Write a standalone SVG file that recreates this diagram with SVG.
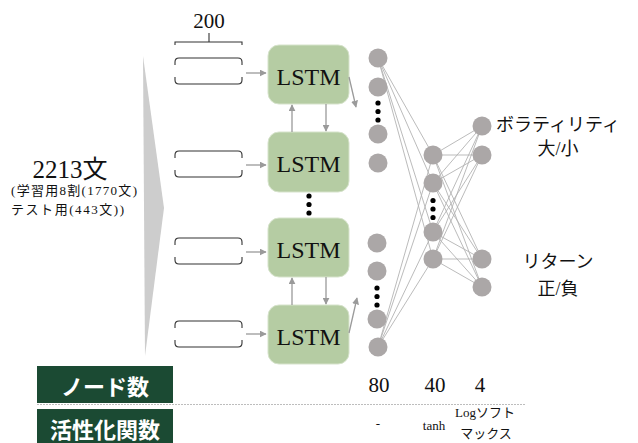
<svg xmlns="http://www.w3.org/2000/svg" width="638" height="443" viewBox="0 0 638 443">
<defs>
<marker id="ah" viewBox="0 0 10 10" refX="9" refY="5" markerWidth="7" markerHeight="7" markerUnits="userSpaceOnUse" orient="auto">
<path d="M0,0 L10,5 L0,10 z" fill="#9a9a9a"/>
</marker>
<path id="slot" d="M0,7 v-3 q0,-4 4,-4 h59 q4,0 4,4 v3 M0,19 v3 q0,4 4,4 h59 q4,0 4,-4 v-3" fill="none" stroke="#333" stroke-width="1.1"/>
</defs>
<style>
.ser{fill:#111}
.lstm rect{fill:#b5cca3;stroke:#d6e3cb;stroke-width:1}
.lstm text{font-size:24px;fill:#111;text-anchor:middle}
.arr{stroke:#9a9a9a;stroke-width:1.3;fill:none;marker-end:url(#ah)}
.net line{stroke:#b3b3b3;stroke-width:0.9}
.node{fill:#aba7a7}
.dot{fill:#000}
.hdr rect{fill:#1b4a33}
.hdr text{font-family:"Noto Sans CJK JP","Noto Sans",sans-serif;font-weight:bold;font-size:22px;fill:#fff;text-anchor:middle}
.lbl{fill:#111;text-anchor:middle}
</style>

<!-- wedge -->
<polygon id="wedge" points="143,56 164,208 145,356" fill="#cdcdcd"/>

<g font-family="'Liberation Serif', 'Times New Roman', 'DejaVu Serif', 'Noto Sans CJK JP', serif">
<!-- left text -->
<g id="corpus">
<text class="ser" x="70" y="178" font-size="25" text-anchor="middle">2213文</text>
<text class="ser" x="11" y="195" font-size="13" textLength="126" lengthAdjust="spacing">(学習用8割(1770文)</text>
<text class="ser" x="11" y="214" font-size="13" textLength="113" lengthAdjust="spacing">テスト用(443文))</text>
</g>

<!-- brace 200 -->
<g id="brace">
<text class="ser" x="209" y="28" font-size="21" text-anchor="middle">200</text>
<path d="M175,45 v-3 h67 v3 M209,42 v-9" fill="none" stroke="#333" stroke-width="1.1"/>
</g>

<!-- inputs -->
<g id="in1"><use href="#slot" x="175" y="58"/></g>
<g id="in2"><use href="#slot" x="175" y="151"/></g>
<g id="in3"><use href="#slot" x="175" y="238"/></g>
<g id="in4"><use href="#slot" x="175" y="321"/></g>

<!-- LSTM -->
<g id="lstm1" class="lstm"><rect x="268" y="45" width="81" height="59" rx="11"/><text x="308.5" y="85">LSTM</text></g>
<g id="lstm2" class="lstm"><rect x="268" y="132" width="81" height="60" rx="11"/><text x="308.5" y="172">LSTM</text></g>
<g id="lstm3" class="lstm"><rect x="268" y="218" width="81" height="59" rx="11"/><text x="308.5" y="258">LSTM</text></g>
<g id="lstm4" class="lstm"><rect x="268" y="305" width="81" height="59" rx="11"/><text x="308.5" y="345">LSTM</text></g>
<g id="lstmdots"><circle class="dot" cx="309" cy="196" r="2.6"/><circle class="dot" cx="309" cy="204.5" r="2.6"/><circle class="dot" cx="309" cy="213" r="2.6"/></g>

<!-- connectors -->
<g id="connectors">
<line class="arr" x1="246" y1="73" x2="266" y2="73"/>
<line class="arr" x1="246" y1="165" x2="266" y2="165"/>
<line class="arr" x1="246" y1="252" x2="266" y2="252"/>
<line class="arr" x1="246" y1="334" x2="266" y2="334"/>
<line class="arr" x1="292" y1="132" x2="292" y2="105"/>
<line class="arr" x1="326" y1="104" x2="326" y2="131"/>
<line class="arr" x1="292" y1="305" x2="292" y2="278"/>
<line class="arr" x1="326" y1="277" x2="326" y2="304"/>
<line class="arr" x1="349" y1="77" x2="356" y2="107"/>
<line class="arr" x1="349" y1="333" x2="357" y2="298"/>
<g class="net">
<line x1="378" y1="58" x2="433" y2="155"/>
<line x1="378" y1="58" x2="433" y2="183"/>
<line x1="378" y1="58" x2="433" y2="232"/>
<line x1="378" y1="58" x2="433" y2="259"/>
<line x1="378" y1="347" x2="433" y2="155"/>
<line x1="378" y1="347" x2="433" y2="183"/>
<line x1="378" y1="347" x2="433" y2="232"/>
<line x1="378" y1="347" x2="433" y2="259"/>
<line x1="433" y1="155" x2="482" y2="126"/>
<line x1="433" y1="155" x2="482" y2="155"/>
<line x1="433" y1="155" x2="482" y2="259"/>
<line x1="433" y1="155" x2="482" y2="287"/>
<line x1="433" y1="183" x2="482" y2="126"/>
<line x1="433" y1="183" x2="482" y2="155"/>
<line x1="433" y1="183" x2="482" y2="259"/>
<line x1="433" y1="183" x2="482" y2="287"/>
<line x1="433" y1="232" x2="482" y2="126"/>
<line x1="433" y1="232" x2="482" y2="155"/>
<line x1="433" y1="232" x2="482" y2="259"/>
<line x1="433" y1="232" x2="482" y2="287"/>
<line x1="433" y1="259" x2="482" y2="126"/>
<line x1="433" y1="259" x2="482" y2="155"/>
<line x1="433" y1="259" x2="482" y2="259"/>
<line x1="433" y1="259" x2="482" y2="287"/>
</g>
</g>

<!-- layer 80 -->
<g id="layer80">
<circle class="node" cx="378" cy="58" r="9.5"/>
<circle class="node" cx="378" cy="87" r="9.5"/>
<circle class="dot" cx="378" cy="103" r="2.6"/><circle class="dot" cx="378" cy="111.5" r="2.6"/><circle class="dot" cx="378" cy="120" r="2.6"/>
<circle class="node" cx="378" cy="134" r="9.5"/>
<circle class="node" cx="378" cy="163" r="9.5"/>
<circle class="node" cx="377" cy="243" r="9.5"/>
<circle class="node" cx="377" cy="271" r="9.5"/>
<circle class="dot" cx="377" cy="288" r="2.6"/><circle class="dot" cx="377" cy="296.5" r="2.6"/><circle class="dot" cx="377" cy="305" r="2.6"/>
<circle class="node" cx="377" cy="319" r="9.5"/>
<circle class="node" cx="378" cy="347" r="9.5"/>
</g>

<!-- layer 40 -->
<g id="layer40">
<circle class="node" cx="433" cy="155" r="9.5"/>
<circle class="node" cx="433" cy="183" r="9.5"/>
<circle class="dot" cx="433" cy="200.5" r="2.6"/><circle class="dot" cx="433" cy="209" r="2.6"/><circle class="dot" cx="433" cy="217.5" r="2.6"/>
<circle class="node" cx="433" cy="232" r="9.5"/>
<circle class="node" cx="433" cy="259" r="9.5"/>
</g>

<!-- layer 4 -->
<g id="layer4">
<circle class="node" cx="482" cy="126" r="9.5"/>
<circle class="node" cx="482" cy="155" r="9.5"/>
<circle class="node" cx="482" cy="259" r="9.5"/>
<circle class="node" cx="482" cy="287" r="9.5"/>
</g>

<!-- output labels -->
<g id="out-vol">
<text class="lbl" x="558" y="131" font-size="18">ボラティリティ</text>
<text class="lbl" x="558" y="155" font-size="18">大/小</text>
</g>
<g id="out-ret">
<text class="lbl" x="558" y="268" font-size="18">リターン</text>
<text class="lbl" x="558" y="295" font-size="18">正/負</text>
</g>

<g id="vals">
<text class="lbl" x="379" y="392" font-size="21">80</text>
<text class="lbl" x="435" y="392" font-size="21">40</text>
<text class="lbl" x="480" y="392" font-size="21">4</text>
<text class="lbl" x="378" y="428" font-size="13">-</text>
<text class="lbl" x="434" y="430" font-size="13">tanh</text>
<text class="lbl" x="485" y="417" font-size="13">Logソフト</text>
<text class="lbl" x="486" y="438" font-size="13">マックス</text>
</g>
</g>

<!-- bottom table -->
<line x1="37" y1="404.5" x2="526" y2="404.5" stroke="#bdbdbd" stroke-width="1" stroke-dasharray="2,1"/>
<g id="hdr-nodes" class="hdr"><rect x="37" y="366" width="136" height="37"/><text x="105" y="395">ノード数</text></g>
<g id="hdr-act" class="hdr"><rect x="37" y="409" width="136" height="34"/><text x="105" y="438">活性化関数</text></g>
</svg>
